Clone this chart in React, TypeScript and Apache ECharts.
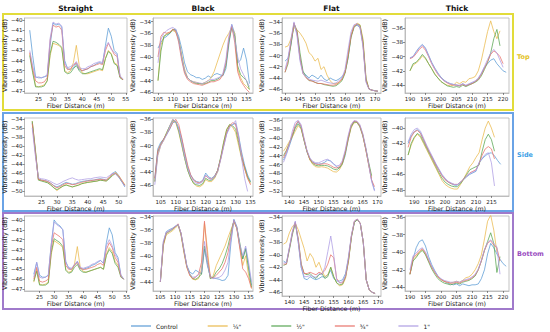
import React, { useEffect, useRef } from "react";
import * as echarts from "echarts";

const FONT = "DejaVu Sans";
const seriesNames = ["Control", "¼\"", "½\"", "¾\"", "1\""];
const seriesColors = ["#5b9bd5", "#eab94c", "#58a552", "#e8726a", "#ad9de3"];
const columnTitles = ["Straight", "Black", "Flat", "Thick"];
const rowLabels = ["Top", "Side", "Bottom"];
const rowBoxColors = ["#e2dc3a", "#6aa3e6", "#a07acb"];
const rowLabelColors = ["#e3c21c", "#3e9fe6", "#9a4dbf"];
const xAxisName = "Fiber Distance (m)";
const yAxisName = "Vibration Intensity (dB)";

// ---- Top / Straight
const topStraightX = [22,23,24,25,26,27,28,29,30,31,32,33,34,35,36,37,38,39,40,41,42,43,44,45,46,47,48,49,50,51,52,53,54];
const topStraightY = [
  [-41.0,-43.5,-45.6,-45.7,-45.7,-45.6,-45.5,-42.5,-40.3,-40.5,-40.4,-40.7,-44.0,-44.8,-44.9,-44.7,-44.3,-44.9,-45.0,-44.9,-44.8,-44.6,-44.5,-44.3,-44.2,-44.3,-42.5,-40.8,-41.6,-43.0,-43.3,-45.6,-45.9],
  [-43.3,-45.0,-46.5,-46.6,-46.5,-46.4,-46.0,-43.5,-42.3,-42.4,-42.5,-42.8,-45.0,-45.2,-45.0,-44.2,-42.5,-44.5,-45.2,-45.3,-45.3,-45.2,-45.1,-45.0,-44.9,-45.0,-43.8,-43.0,-43.3,-44.2,-44.4,-45.6,-45.9],
  [-43.5,-45.2,-46.6,-46.6,-46.6,-46.5,-46.0,-43.3,-42.1,-42.2,-42.4,-42.7,-45.1,-45.3,-45.2,-44.8,-44.5,-45.0,-45.3,-45.3,-45.2,-45.1,-45.0,-44.9,-44.8,-44.9,-43.8,-43.1,-43.4,-44.3,-44.5,-45.7,-45.9],
  [-43.2,-44.8,-46.0,-46.2,-46.2,-46.1,-45.7,-42.0,-40.5,-40.7,-40.6,-41.0,-44.5,-44.9,-44.8,-44.5,-44.2,-44.8,-45.0,-44.9,-44.8,-44.6,-44.5,-44.4,-44.3,-44.4,-43.0,-42.3,-42.8,-43.4,-43.6,-45.6,-45.9],
  [-43.0,-44.5,-45.7,-45.6,-45.7,-45.6,-45.4,-41.8,-40.2,-40.4,-40.3,-40.6,-44.3,-44.7,-44.6,-44.4,-44.1,-44.7,-44.8,-44.8,-44.6,-44.5,-44.3,-44.2,-44.1,-44.2,-42.7,-42.2,-42.9,-43.2,-43.4,-45.5,-45.8],
];
// ---- Top / Black
const topBlackX = [105,106,107,108,109,110,111,112,113,114,115,116,117,118,119,120,121,122,123,124,125,126,127,128,129,130,131,132,133,134,135,136];
const topBlackY = [
  [-38.5,-37.5,-36.8,-36.5,-36.0,-35.5,-35.3,-36.5,-38.5,-41.0,-42.5,-43.0,-43.2,-43.5,-43.5,-43.8,-43.6,-43.2,-43.5,-43.0,-42.8,-43.0,-43.2,-42.0,-38.0,-34.5,-36.0,-41.0,-40.5,-38.5,-40.5,-44.5],
  [-44.0,-38.0,-36.5,-36.0,-35.8,-35.5,-35.8,-37.0,-39.5,-42.0,-43.5,-44.0,-44.2,-44.3,-44.5,-44.5,-44.3,-44.0,-43.5,-42.5,-41.0,-39.5,-38.0,-36.8,-36.0,-35.0,-36.0,-42.0,-43.5,-44.5,-45.0,-45.5],
  [-44.0,-39.0,-36.5,-36.2,-36.0,-35.3,-35.5,-37.0,-40.0,-42.5,-43.5,-44.0,-44.3,-44.5,-44.5,-44.6,-44.5,-44.3,-44.0,-44.0,-43.8,-43.5,-43.0,-41.5,-37.5,-35.0,-36.5,-41.5,-43.0,-43.5,-44.0,-45.5],
  [-40.0,-36.5,-35.8,-36.0,-35.8,-35.3,-35.6,-37.5,-40.5,-42.8,-43.8,-44.2,-44.5,-44.6,-44.7,-44.8,-44.6,-44.4,-44.2,-44.2,-44.0,-43.8,-43.0,-41.0,-37.0,-34.8,-37.5,-42.5,-44.0,-44.8,-45.5,-46.0],
  [-41.0,-37.0,-36.0,-35.5,-35.2,-35.0,-35.3,-37.0,-40.0,-42.3,-43.5,-44.0,-44.2,-44.3,-44.4,-44.5,-44.3,-44.0,-43.8,-43.8,-43.6,-43.4,-42.8,-40.5,-36.5,-34.5,-37.0,-40.0,-42.0,-43.0,-44.0,-45.0],
];
// ---- Top / Flat
const topFlatX = [140,141,142,143,144,145,146,147,148,149,150,151,152,153,154,155,156,157,158,159,160,161,162,163,164,165,166,167,168,169,170,171];
const topFlatY = [
  [-41.0,-40.5,-38.0,-34.5,-36.0,-40.5,-43.0,-43.5,-44.0,-43.5,-43.8,-44.2,-43.5,-44.2,-44.5,-44.0,-44.3,-44.5,-44.2,-43.8,-43.0,-40.5,-36.5,-34.8,-34.6,-35.0,-38.0,-44.5,-46.0,-46.2,-46.3,-46.4],
  [-38.5,-38.3,-37.0,-35.0,-35.4,-36.0,-36.8,-37.8,-39.5,-40.0,-41.0,-40.5,-42.5,-42.0,-43.5,-44.5,-45.0,-45.0,-44.8,-44.3,-43.0,-40.0,-36.5,-34.8,-34.2,-34.5,-37.0,-44.0,-46.0,-46.2,-46.3,-46.4],
  [-43.0,-41.5,-38.0,-34.3,-35.5,-39.5,-42.8,-43.8,-44.5,-44.5,-44.8,-45.0,-45.0,-45.2,-45.3,-45.4,-45.5,-45.4,-45.0,-44.5,-43.2,-40.5,-36.8,-35.0,-34.4,-34.6,-37.5,-44.2,-46.0,-46.2,-46.3,-46.4],
  [-43.0,-41.0,-37.5,-34.2,-35.8,-40.5,-43.2,-44.0,-44.4,-44.6,-44.8,-45.0,-45.0,-45.1,-45.2,-45.3,-45.3,-45.2,-44.8,-44.2,-43.0,-40.0,-36.5,-34.8,-34.4,-34.8,-38.0,-44.5,-46.0,-46.2,-46.3,-46.4],
  [-42.5,-40.5,-37.0,-34.0,-36.5,-41.0,-43.3,-43.8,-44.2,-44.4,-44.5,-44.6,-44.4,-44.6,-44.8,-44.9,-45.0,-44.9,-44.5,-44.0,-42.5,-39.0,-35.8,-34.5,-34.3,-35.0,-38.5,-44.8,-46.0,-46.2,-46.3,-46.4],
];
// ---- Top / Thick
const topThickX = [190,191,192,193,194,195,196,197,198,199,200,201,202,203,204,205,206,207,208,209,210,211,212,213,214,215,216,217,218,219,220,221];
const topThickY = [
  [-40.2,-40.0,-39.3,-38.7,-38.3,-38.8,-39.8,-40.8,-41.6,-42.3,-42.9,-43.3,-43.6,-43.8,-43.9,-44.0,-44.1,-43.8,-44.1,-43.9,-43.7,-43.5,-43.1,-42.4,-41.5,-41.0,-40.5,-40.3,-41.0,-41.5,-42.0,-42.2],
  [-42.0,-41.2,-40.9,-40.5,-39.9,-40.3,-41.0,-41.7,-42.4,-43.0,-43.5,-43.8,-44.0,-44.1,-44.0,-43.6,-43.8,-43.5,-43.6,-43.1,-43.0,-42.8,-42.0,-40.5,-38.5,-36.5,-35.0,-36.5,-37.5,-36.4,null,null],
  [-42.0,-41.0,-40.8,-40.3,-39.7,-40.2,-41.0,-41.7,-42.5,-43.0,-43.5,-43.8,-44.1,-44.2,-44.3,-44.2,-44.3,-44.0,-44.2,-44.0,-43.8,-43.6,-43.3,-42.7,-41.8,-40.8,-39.5,-37.5,-36.2,-38.5,null,null],
  [-40.3,-40.1,-39.6,-39.0,-38.6,-39.1,-40.0,-41.0,-41.8,-42.5,-43.0,-43.4,-43.7,-43.9,-44.0,-44.0,-44.1,-43.9,-44.1,-43.9,-43.8,-43.5,-43.2,-42.5,-41.6,-40.7,-39.7,-39.2,-39.5,-40.0,-41.0,null],
  [-40.2,-40.0,-39.4,-38.8,-38.4,-38.9,-39.9,-40.9,-41.7,-42.4,-43.0,-43.4,-43.6,-43.8,-43.9,-44.0,-44.0,-43.8,-44.0,-43.8,-43.6,-43.4,-43.0,-42.3,-41.4,-40.4,-39.5,-39.0,-39.5,-40.5,-41.5,null],
];
// ---- Side / Straight
const sideStraightX = [22,23,24,25,26,27,28,29,30,31,32,33,34,35,36,37,38,39,40,41,42,43,44,45,46,47,48,49,50,51,52];
const sideStraightY = [
  [-34.8,-41.0,-47.2,-47.5,-47.6,-47.8,-48.2,-48.7,-49.0,-48.7,-48.3,-48.0,-48.2,-48.4,-48.3,-48.0,-47.8,-47.7,-47.6,-47.5,-47.5,-47.3,-47.2,-47.3,-47.5,-47.0,-46.0,-45.6,-46.5,-47.8,-49.0],
  [-34.5,-40.5,-47.4,-47.6,-47.8,-48.0,-48.5,-49.2,-49.8,-49.3,-48.8,-48.5,-48.8,-49.0,-48.8,-48.6,-48.3,-48.2,-48.0,-47.9,-47.8,-47.7,-47.5,-47.6,-47.7,-47.0,-46.3,-45.8,-46.5,-47.5,-48.5],
  [-34.5,-40.8,-47.5,-47.7,-47.9,-48.1,-48.6,-49.2,-49.6,-49.2,-48.8,-48.6,-48.8,-49.0,-48.8,-48.6,-48.3,-48.1,-48.0,-47.9,-47.8,-47.7,-47.5,-47.6,-47.7,-47.2,-46.5,-46.0,-46.8,-47.8,-48.6],
  [-35.0,-41.5,-47.3,-47.5,-47.6,-47.8,-48.2,-48.8,-49.2,-48.9,-48.5,-48.2,-48.3,-48.5,-48.4,-48.2,-48.0,-47.8,-47.7,-47.6,-47.5,-47.4,-47.3,-47.4,-47.5,-46.8,-46.2,-46.0,-46.6,-47.6,-48.7],
  [-36.0,-42.0,-47.0,-47.2,-47.3,-47.5,-47.8,-48.2,-48.5,-48.2,-47.8,-47.5,-47.2,-47.0,-47.3,-47.5,-47.4,-47.3,-47.2,-47.2,-47.0,-46.9,-46.8,-46.9,-47.0,-46.5,-46.0,-46.2,-46.8,-47.8,-48.8],
];
// ---- Side / Black
const sideBlackX = [103,104,105,106,107,108,109,110,111,112,113,114,115,116,117,118,119,120,121,122,123,124,125,126,127,128,129,130,131,132,133,134,135];
const sideBlackY = [
  [-45.0,-40.5,-39.5,-39.0,-38.3,-37.5,-36.5,-36.4,-37.3,-39.0,-41.2,-43.3,-44.5,-45.2,-45.5,-45.6,-45.3,-44.2,-44.8,-45.0,-44.6,-43.8,-42.0,-40.0,-38.2,-37.0,-36.8,-36.6,-38.5,-41.0,-43.0,-44.5,-45.5],
  [-45.5,-41.5,-40.0,-39.2,-38.0,-37.0,-36.0,-36.5,-38.0,-40.0,-42.0,-43.8,-45.0,-45.8,-46.2,-46.3,-46.0,-45.2,-45.5,-45.5,-45.0,-44.0,-42.0,-39.5,-37.5,-36.8,-37.2,-38.0,-40.0,-42.0,-43.5,-45.0,-45.8],
  [-45.5,-41.0,-39.8,-39.0,-38.0,-37.0,-36.2,-36.3,-37.8,-39.8,-42.0,-43.8,-45.0,-45.8,-46.0,-46.1,-45.8,-45.0,-45.3,-45.3,-44.8,-43.8,-41.8,-39.5,-37.6,-36.8,-37.0,-37.5,-39.5,-41.8,-43.3,-44.8,-45.6],
  [-45.0,-40.8,-39.8,-39.0,-38.2,-37.4,-36.5,-36.0,-36.8,-38.8,-41.0,-43.0,-44.5,-45.3,-45.6,-45.7,-45.4,-44.6,-45.0,-45.1,-44.7,-43.8,-42.0,-40.0,-38.0,-37.0,-36.5,-36.8,-39.0,-41.5,-43.5,-45.0,-46.0],
  [-46.0,-41.5,-40.0,-39.2,-38.3,-37.0,-36.0,-36.3,-37.5,-39.5,-41.8,-43.5,-44.8,-45.5,-45.8,-45.8,-45.5,-44.5,-45.0,-45.2,-44.8,-44.0,-42.2,-40.2,-38.3,-37.3,-36.8,-36.2,-38.5,-42.0,-45.0,-47.0,null],
];
// ---- Side / Flat
const sideFlatX = [138,139,140,141,142,143,144,145,146,147,148,149,150,151,152,153,154,155,156,157,158,159,160,161,162,163,164,165,166,167,168,169];
const sideFlatY = [
  [-45.0,-43.5,-41.8,-39.8,-37.5,-36.3,-37.5,-40.5,-43.2,-44.8,-45.5,-45.8,-45.9,-45.8,-45.5,-45.0,-45.2,-45.8,-46.5,-46.8,-46.0,-44.0,-40.5,-37.5,-36.3,-36.5,-37.5,-39.5,-42.5,-46.0,-49.5,-51.8],
  [-43.0,-42.0,-40.8,-39.8,-38.5,-37.2,-38.0,-40.5,-43.0,-45.0,-46.0,-46.5,-46.6,-46.5,-46.6,-46.8,-47.2,-47.6,-47.7,-47.2,-46.0,-43.5,-40.5,-37.8,-36.6,-36.5,-37.5,-39.5,-42.5,-46.0,-49.0,null],
  [-44.0,-42.8,-41.2,-39.5,-37.8,-36.8,-37.8,-40.5,-43.0,-44.8,-45.8,-46.2,-46.3,-46.2,-46.2,-46.3,-46.6,-47.0,-47.2,-46.8,-45.8,-43.5,-40.2,-37.5,-36.4,-36.4,-37.3,-39.3,-42.3,-45.5,-48.5,null],
  [-44.5,-43.0,-41.3,-39.2,-37.2,-36.2,-37.3,-40.3,-43.0,-44.8,-45.6,-45.9,-46.0,-45.9,-45.8,-45.9,-46.2,-46.6,-46.8,-46.5,-45.5,-43.2,-40.0,-37.2,-36.2,-36.3,-37.2,-39.3,-42.5,-46.0,-49.5,-51.0],
  [-45.5,-43.8,-41.5,-38.5,-36.5,-36.0,-37.0,-40.0,-42.8,-44.5,-45.3,-45.6,-45.6,-45.3,-45.0,-44.8,-45.2,-45.8,-46.3,-46.2,-45.2,-42.8,-39.5,-37.0,-36.1,-36.2,-37.0,-39.0,-42.0,-45.8,-49.8,-52.0],
];
// ---- Side / Thick
const sideThickX = [188,189,190,191,192,193,194,195,196,197,198,199,200,201,202,203,204,205,206,207,208,209,210,211,212,213,214,215,216,217,218];
const sideThickY = [
  [-42.0,-41.0,-40.5,-40.2,-40.6,-41.5,-42.4,-43.2,-43.9,-44.7,-45.4,-46.1,-46.6,-47.0,-47.2,-47.4,-47.4,-47.0,-46.7,-46.3,-46.0,-45.8,-45.6,-44.5,-44.0,-43.6,-43.3,-43.2,-43.6,-44.2,-44.7],
  [-43.5,-42.2,-41.3,-40.8,-41.2,-42.0,-42.8,-43.6,-44.4,-45.2,-46.0,-46.8,-47.3,-47.6,-47.8,-47.9,-47.9,-47.3,-46.6,-45.8,-45.0,-44.5,-43.8,-43.2,-41.5,-40.0,-39.1,-40.0,-41.2,null,null],
  [-43.5,-42.0,-41.2,-40.7,-41.0,-41.8,-42.6,-43.4,-44.2,-45.0,-45.8,-46.5,-47.0,-47.3,-47.5,-47.6,-47.6,-47.2,-46.6,-46.0,-45.4,-45.2,-45.0,-44.8,-43.0,-41.5,-40.8,-41.5,-43.0,null,null],
  [-42.5,-41.2,-40.5,-40.3,-40.7,-41.5,-42.4,-43.2,-44.0,-44.8,-45.5,-46.2,-46.7,-47.0,-47.2,-47.3,-47.3,-47.0,-46.6,-46.2,-45.8,-45.6,-45.4,-44.6,-43.5,-42.7,-42.4,-42.7,-44.0,null,null],
  [-41.8,-40.8,-40.2,-40.0,-40.4,-41.3,-42.2,-43.0,-43.8,-44.6,-45.3,-46.0,-46.5,-46.9,-47.1,-47.3,-47.3,-47.0,-46.6,-46.2,-45.9,-45.7,-45.5,-44.5,-43.9,-43.4,-43.2,-44.5,-47.5,null,null],
];
// ---- Bottom / Straight
const bottomStraightX = [23,24,25,26,27,28,29,30,31,32,33,34,35,36,37,38,39,40,41,42,43,44,45,46,47,48,49,50,51,52,53,54];
const bottomStraightY = [
  [-45.5,-44.3,-45.6,-45.8,-45.8,-45.6,-42.5,-40.0,-40.4,-40.6,-41.0,-44.2,-44.9,-45.0,-44.6,-44.2,-44.9,-45.0,-44.9,-44.8,-44.6,-44.5,-44.3,-44.1,-44.4,-42.3,-40.8,-41.5,-43.3,-43.8,-45.6,-46.0],
  [-46.3,-45.0,-46.5,-46.6,-46.5,-46.3,-43.5,-42.1,-42.3,-42.5,-42.8,-45.0,-45.3,-45.2,-44.5,-42.7,-44.8,-45.2,-45.3,-45.2,-45.1,-45.0,-44.9,-44.8,-45.0,-43.5,-42.8,-43.2,-44.2,-44.6,-45.7,-46.0],
  [-46.2,-45.2,-46.6,-46.6,-46.6,-46.4,-43.3,-41.9,-42.1,-42.3,-42.7,-45.1,-45.4,-45.3,-44.8,-44.5,-45.1,-45.3,-45.3,-45.2,-45.1,-45.0,-44.9,-44.8,-45.0,-43.6,-43.0,-43.4,-44.4,-44.8,-45.8,-46.0],
  [-46.0,-44.8,-46.2,-46.3,-46.2,-46.0,-42.8,-41.3,-41.5,-41.7,-42.0,-44.6,-45.0,-45.0,-44.6,-44.3,-44.9,-45.0,-45.0,-44.9,-44.8,-44.7,-44.5,-44.4,-44.6,-43.0,-42.3,-42.8,-43.8,-44.3,-45.7,-46.0],
  [-45.8,-44.3,-45.8,-45.9,-45.8,-45.6,-42.5,-40.2,-40.5,-40.7,-41.0,-44.3,-44.8,-44.9,-44.5,-44.2,-44.8,-44.9,-44.8,-44.7,-44.5,-44.4,-44.2,-44.1,-44.4,-42.6,-42.0,-42.6,-43.5,-44.0,-45.6,-46.0],
];
// ---- Bottom / Black
const bottomBlackX = [105,106,107,108,109,110,111,112,113,114,115,116,117,118,119,120,121,122,123,124,125,126,127,128,129,130,131,132,133,134,135,136];
const bottomBlackY = [
  [-44.0,-38.0,-36.3,-36.0,-35.8,-35.5,-35.2,-36.5,-39.0,-41.5,-42.5,-42.8,-42.2,-42.5,-42.8,-39.0,-41.5,-43.2,-43.4,-43.5,-43.6,-43.8,-43.7,-43.0,-38.0,-34.4,-35.5,-38.5,-40.5,-38.8,-41.5,-44.5],
  [-44.0,-38.5,-36.8,-36.5,-36.2,-35.8,-35.3,-36.8,-39.5,-41.8,-43.0,-43.6,-43.7,-43.5,-42.0,-35.0,-39.0,-43.5,-43.0,-41.5,-40.5,-39.5,-38.5,-37.2,-36.0,-34.8,-35.8,-38.5,-41.5,-40.0,-43.0,-45.0],
  [-44.0,-38.3,-36.6,-36.3,-36.0,-35.6,-35.2,-36.6,-39.2,-41.6,-42.8,-43.5,-43.6,-43.3,-42.8,-38.5,-41.0,-43.5,-43.3,-42.5,-42.0,-41.2,-40.0,-38.5,-36.5,-34.6,-35.7,-38.0,-40.5,-39.0,-42.0,-44.8],
  [-44.0,-38.2,-36.5,-36.2,-35.9,-35.6,-35.1,-36.5,-39.2,-41.7,-43.0,-43.5,-43.3,-42.8,-41.0,-34.7,-40.0,-43.3,-43.4,-43.0,-42.5,-42.0,-41.0,-39.5,-37.0,-34.6,-35.8,-38.8,-42.0,-42.5,-43.5,-45.0],
  [-44.0,-37.8,-36.4,-36.2,-35.9,-35.5,-35.2,-36.5,-39.0,-41.5,-42.8,-43.3,-43.2,-42.9,-42.5,-37.8,-41.2,-43.3,-43.5,-43.4,-43.3,-43.0,-42.2,-41.0,-37.5,-34.5,-35.6,-38.2,-40.0,-38.5,-41.0,-44.0],
];
// ---- Bottom / Flat
const bottomFlatX = [138,139,140,141,142,143,144,145,146,147,148,149,150,151,152,153,154,155,156,157,158,159,160,161,162,163,164,165,166,167,168,169];
const bottomFlatY = [
  [-41.0,-41.3,-39.0,-36.5,-34.8,-38.0,-42.0,-43.8,-44.0,-43.5,-43.8,-44.0,-43.8,-43.5,-43.6,-43.2,-42.5,-43.8,-44.2,-44.2,-44.0,-43.0,-40.5,-37.0,-34.8,-34.3,-35.0,-38.0,-44.0,-45.6,-46.0,-46.2],
  [-38.3,-38.0,-36.5,-35.5,-35.0,-36.0,-37.5,-39.0,-41.0,-39.8,-40.5,-42.0,-41.2,-42.5,-43.5,-43.2,-42.0,-43.5,-44.5,-45.0,-44.8,-43.8,-41.0,-37.0,-34.8,-34.3,-35.0,-38.0,-44.0,-45.6,-46.0,-46.2],
  [-41.7,-41.5,-39.2,-36.8,-35.0,-37.5,-41.5,-43.0,-43.2,-43.0,-43.5,-43.8,-43.2,-43.0,-43.8,-43.5,-42.0,-43.5,-44.5,-44.8,-44.7,-43.5,-41.0,-37.2,-34.8,-34.4,-35.0,-38.0,-44.0,-45.6,-46.0,-46.2],
  [-41.5,-41.5,-39.0,-36.5,-34.8,-37.5,-41.5,-43.0,-43.0,-42.8,-43.0,-43.2,-42.8,-43.0,-42.5,-41.5,-40.0,-40.5,-43.8,-44.5,-44.5,-43.5,-40.8,-37.0,-34.6,-34.3,-35.0,-38.0,-44.0,-45.6,-46.0,-46.2],
  [-41.3,-41.3,-38.8,-36.3,-34.6,-38.0,-42.0,-43.5,-43.5,-43.3,-43.5,-43.6,-43.0,-43.2,-42.0,-39.5,-37.0,-40.0,-44.0,-44.5,-44.3,-43.3,-40.3,-36.8,-34.6,-34.3,-35.0,-38.0,-44.0,-45.6,-46.0,-46.2],
];
// ---- Bottom / Thick
const bottomThickX = [190,191,192,193,194,195,196,197,198,199,200,201,202,203,204,205,206,207,208,209,210,211,212,213,214,215,216,217,218,219,220,221];
const bottomThickY = [
  [-42.5,-40.8,-39.5,-38.8,-38.6,-39.3,-40.5,-41.4,-42.1,-42.7,-43.1,-43.3,-43.5,-43.6,-43.7,-43.6,-43.8,-43.6,-43.7,-43.8,-43.7,-43.7,-43.6,-43.0,-42.0,-40.2,-39.0,-39.5,-40.2,-40.8,-41.3,-41.6],
  [-42.5,-40.8,-40.5,-40.0,-39.7,-40.2,-41.0,-41.7,-42.3,-42.8,-43.1,-43.3,-43.4,-43.5,-43.4,-43.3,-43.4,-43.2,-42.9,-42.8,-42.5,-42.0,-41.3,-40.3,-38.5,-36.5,-35.8,-37.5,-40.0,null,null,null],
  [-42.5,-41.0,-40.6,-40.1,-39.8,-40.3,-41.1,-41.9,-42.5,-43.0,-43.3,-43.5,-43.6,-43.7,-43.6,-43.5,-43.6,-43.4,-43.3,-43.2,-43.0,-42.7,-42.0,-41.0,-39.8,-38.8,-37.8,-39.0,-42.3,-40.5,null,null],
  [-42.5,-40.6,-40.3,-39.9,-39.6,-40.1,-40.9,-41.7,-42.3,-42.8,-43.1,-43.3,-43.4,-43.5,-43.5,-43.4,-43.5,-43.3,-43.2,-43.1,-42.9,-42.6,-42.0,-41.0,-39.8,-39.0,-38.7,-39.2,-39.5,-41.0,null,null],
  [-42.0,-40.4,-40.1,-39.7,-39.5,-40.0,-40.8,-41.6,-42.2,-42.7,-43.0,-43.2,-43.3,-43.4,-43.4,-43.3,-43.4,-43.2,-43.1,-43.0,-42.8,-42.5,-41.9,-40.9,-39.7,-38.9,-38.6,-39.0,-39.4,-42.5,null,null],
];

// tick label values
const straightXTicks = [25, 30, 35, 40, 45, 50, 55];
const straightSideXTicks = [25, 30, 35, 40, 45, 50];
const blackXTicks = [105, 110, 115, 120, 125, 130, 135];
const flatXTicks = [140, 145, 150, 155, 160, 165, 170];
const thickXTicks = [190, 195, 200, 205, 210, 215, 220];
const thickSideXTicks = [190, 195, 200, 205, 210, 215];
const straightYTicks = [-47, -46, -45, -44, -43, -42, -41, -40];
const blackTopYTicks = [-46, -44, -42, -40, -38, -36, -34];
const flatTopYTicks = [-46, -44, -42, -40, -38, -36, -34];
const thickTopYTicks = [-44, -42, -40, -38, -36];
const straightSideYTicks = [-50, -48, -46, -44, -42, -40, -38, -36, -34];
const blackSideYTicks = [-46, -44, -42, -40, -38, -36];
const flatSideYTicks = [-52, -50, -48, -46, -44, -42, -40, -38, -36];
const thickSideYTicks = [-48, -46, -44, -42, -40];
const blackBottomYTicks = [-44, -42, -40, -38, -36, -34];
const flatBottomYTicks = [-46, -44, -42, -40, -38, -36, -34];
const thickBottomYTicks = [-44, -42, -40, -38, -36];

const panels = [
  { row: 0, col: 0, x: topStraightX, y: topStraightY, xt: straightXTicks, yt: straightYTicks, xr: [20.2, 55.4], yr: [-47.2, -39.8] },
  { row: 0, col: 1, x: topBlackX, y: topBlackY, xt: blackXTicks, yt: blackTopYTicks, xr: [103.3, 137.2], yr: [-46.1, -33.4] },
  { row: 0, col: 2, x: topFlatX, y: topFlatY, xt: flatXTicks, yt: flatTopYTicks, xr: [139, 172], yr: [-46.7, -33.3] },
  { row: 0, col: 3, x: topThickX, y: topThickY, xt: thickXTicks, yt: thickTopYTicks, xr: [188.4, 221.9], yr: [-45.1, -34.6] },
  { row: 1, col: 0, x: sideStraightX, y: sideStraightY, xt: straightSideXTicks, yt: straightSideYTicks, xr: [19.5, 52.7], yr: [-51.0, -33.8] },
  { row: 1, col: 1, x: sideBlackX, y: sideBlackY, xt: blackXTicks, yt: blackSideYTicks, xr: [102.4, 135.8], yr: [-47.7, -35.8] },
  { row: 1, col: 2, x: sideFlatX, y: sideFlatY, xt: flatXTicks, yt: flatSideYTicks, xr: [137.5, 171.2], yr: [-53.1, -35.5] },
  { row: 1, col: 3, x: sideThickX, y: sideThickY, xt: thickSideXTicks, yt: thickSideYTicks, xr: [187, 220.7], yr: [-48.8, -38.7] },
  { row: 2, col: 0, x: bottomStraightX, y: bottomStraightY, xt: straightXTicks, yt: straightYTicks, xr: [19.8, 55.1], yr: [-47.2, -39.6] },
  { row: 2, col: 1, x: bottomBlackX, y: bottomBlackY, xt: blackXTicks, yt: blackBottomYTicks, xr: [102.5, 136.5], yr: [-45.4, -33.9] },
  { row: 2, col: 2, x: bottomFlatX, y: bottomFlatY, xt: flatXTicks, yt: flatBottomYTicks, xr: [137.5, 171], yr: [-46.6, -33.8], tall: true },
  { row: 2, col: 3, x: bottomThickX, y: bottomThickY, xt: thickXTicks, yt: thickBottomYTicks, xr: [188.4, 221.9], yr: [-44.4, -35.9] },
];

// layout
const colLeft = [24, 153, 282, 405];
const colWidth = [103, 100, 99, 104];
const rowTop = [18, 118, 216];
const rowHeight = [75, 78, 75];
const tallHeight = 80;
const rowBoxes = [
  { y: 14, h: 96 },
  { y: 113, h: 98 },
  { y: 213, h: 96 },
];
const rowLabelY = [57, 155, 254];

const fmt = (v: number) => String(v).replace("-", "\u2212");

export default function App() {
  const ref = useRef<HTMLDivElement>(null);
  useEffect(() => {
    if (!ref.current) return;
    const chart = echarts.init(ref.current, undefined, { renderer: "svg" });
    const grid: any[] = [];
    const xAxis: any[] = [];
    const yAxis: any[] = [];
    const series: any[] = [];
    panels.forEach((p, i) => {
      grid.push({
        left: colLeft[p.col],
        top: rowTop[p.row],
        width: colWidth[p.col],
        height: p.tall ? tallHeight : rowHeight[p.row],
        show: true,
        borderColor: "#b4b4b4",
        borderWidth: 0.8,
        backgroundColor: "#ffffff",
      });
      xAxis.push({
        type: "value",
        gridIndex: i,
        min: p.xr[0],
        max: p.xr[1],
        name: xAxisName,
        nameLocation: "middle",
        nameGap: 9,
        nameTextStyle: { fontSize: 6.3, color: "#222", fontFamily: FONT },
        axisLine: { show: true, onZero: false, lineStyle: { color: "#b4b4b4", width: 0.8 } },
        axisTick: { show: true, length: 2, customValues: p.xt, lineStyle: { color: "#444", width: 0.6 } },
        axisLabel: { customValues: p.xt, fontSize: 5.5, margin: 2.5, color: "#222", fontFamily: FONT, formatter: fmt },
        splitLine: { show: false },
      });
      yAxis.push({
        type: "value",
        gridIndex: i,
        min: p.yr[0],
        max: p.yr[1],
        name: yAxisName,
        nameLocation: "middle",
        nameGap: 12,
        nameTextStyle: { fontSize: 6.3, color: "#222", fontFamily: FONT },
        axisLine: { show: true, onZero: false, lineStyle: { color: "#b4b4b4", width: 0.8 } },
        axisTick: { show: true, length: 2, customValues: p.yt, lineStyle: { color: "#444", width: 0.6 } },
        axisLabel: { customValues: p.yt, fontSize: 5.5, margin: 2, color: "#222", fontFamily: FONT, formatter: fmt },
        splitLine: { show: false },
      });
      p.y.forEach((vals, k) => {
        const data = p.x
          .map((xv, j) => [xv, vals[j]])
          .filter((d) => d[1] !== null && d[1] !== undefined);
        series.push({
          type: "line",
          name: seriesNames[k],
          xAxisIndex: i,
          yAxisIndex: i,
          data,
          symbol: "none",
          showSymbol: false,
          silent: true,
          lineStyle: { color: seriesColors[k], width: 0.9, opacity: 0.85 },
          itemStyle: { color: seriesColors[k] },
        });
      });
    });

    const graphic: any[] = [];
    columnTitles.forEach((t, c) => {
      graphic.push({
        type: "text",
        x: colLeft[c] + colWidth[c] / 2,
        y: 8,
        silent: true,
        style: { text: t, fontSize: 7.5, fontWeight: "bold", fontFamily: FONT, fill: "#111", align: "center", verticalAlign: "middle" },
      });
    });
    rowLabels.forEach((t, r) => {
      graphic.push({
        type: "rect",
        silent: true,
        shape: { x: 3, y: rowBoxes[r].y, width: 510, height: rowBoxes[r].h },
        style: { fill: "none", stroke: rowBoxColors[r], lineWidth: 2 },
      });
      graphic.push({
        type: "text",
        x: 517,
        y: rowLabelY[r],
        silent: true,
        style: { text: t, fontSize: 6.5, fontWeight: "bold", fontFamily: FONT, fill: rowLabelColors[r], align: "left", verticalAlign: "middle" },
      });
    });

    chart.setOption({
      animation: false,
      backgroundColor: "#ffffff",
      grid,
      xAxis,
      yAxis,
      series,
      graphic,
      legend: {
        data: seriesNames,
        left: 126,
        top: 318,
        icon: "rect",
        itemWidth: 20,
        itemHeight: 1.2,
        itemGap: 30,
        selectedMode: false,
        textStyle: { fontSize: 6, fontFamily: FONT, color: "#222" },
      },
    });
    return () => chart.dispose();
  }, []);
  return (
    <div
      ref={ref}
      style={{ position: "fixed", left: 0, top: 0, width: 550, height: 332, background: "#fff" }}
    />
  );
}
